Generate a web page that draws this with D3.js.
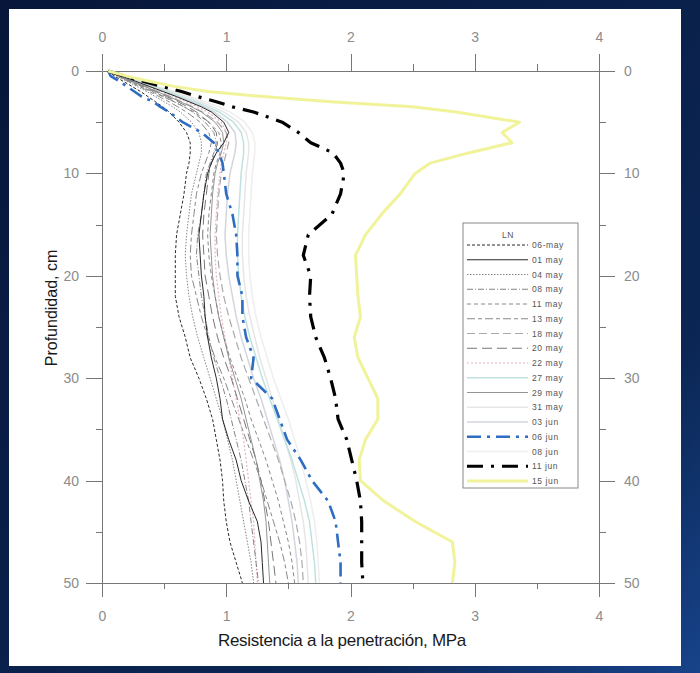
<!DOCTYPE html>
<html>
<head>
<meta charset="utf-8">
<script src="https://cdnjs.cloudflare.com/ajax/libs/d3/7.8.5/d3.min.js"></script>
<style>
  html, body { margin: 0; padding: 0; background: #0b2552; }
  #chart { width: 700px; height: 673px; }
  .tick text { fill: #8c8c8c; font-family: "Liberation Sans Narrow", "Liberation Sans", Arial, sans-serif; font-size: 14px; }
  .tick line, .domain { stroke: #777; stroke-width: 1; }
  .axis-text { font-family: "Liberation Sans", Arial, sans-serif; fill: #1a1a1a; }
  .legend-text { font-family: "Liberation Sans", Arial, sans-serif; font-size: 8.5px; fill: #555; letter-spacing: 0.6px; }
</style>
</head>
<body>
<div id="chart"></div>
<script>
// Depth of each reading (cm), shared by all series
var depths = [0, 0.5, 1, 1.5, 2, 2.5, 3, 3.5, 4, 5, 6, 7, 8, 9, 10, 12, 14, 16, 18, 20,
  22, 24, 26, 28, 30, 32, 34, 36, 38, 40, 42, 44, 46, 48, 50];

// Penetration resistance (MPa) per date
var may06a = [0.05, 0.10, 0.17, 0.24, 0.31, 0.37, 0.43, 0.49, 0.54, 0.62, 0.68, 0.71, 0.71, 0.70, 0.68, 0.66, 0.63, 0.60, 0.59, 0.59,
  0.59, 0.62, 0.67, 0.71, 0.78, 0.84, 0.89, 0.92, 0.95, 0.97, 0.98, 1.00, 1.03, 1.08, 1.13];
var may01 = [0.05, 0.16, 0.27, 0.38, 0.49, 0.60, 0.70, 0.80, 0.88, 0.98, 1.02, 0.98, 0.92, 0.88, 0.85, 0.82, 0.80, 0.78, 0.79, 0.80,
  0.82, 0.83, 0.85, 0.88, 0.92, 0.95, 0.97, 1.02, 1.08, 1.12, 1.18, 1.25, 1.28, 1.29, 1.30];
var may04 = [0.05, 0.12, 0.20, 0.28, 0.36, 0.43, 0.50, 0.57, 0.63, 0.72, 0.78, 0.80, 0.80, 0.78, 0.76, 0.72, 0.70, 0.68, 0.67, 0.68,
  0.70, 0.73, 0.77, 0.82, 0.87, 0.92, 0.97, 1.01, 1.05, 1.08, 1.11, 1.14, 1.17, 1.20, 1.22];
var may08 = [0.05, 0.14, 0.23, 0.32, 0.41, 0.50, 0.58, 0.66, 0.73, 0.83, 0.90, 0.92, 0.90, 0.87, 0.84, 0.82, 0.80, 0.77, 0.76, 0.78,
  0.80, 0.83, 0.86, 0.90, 0.95, 1.00, 1.04, 1.08, 1.12, 1.15, 1.18, 1.20, 1.22, 1.24, 1.26];
var may11 = [0.05, 0.13, 0.22, 0.31, 0.40, 0.49, 0.58, 0.66, 0.74, 0.86, 0.94, 0.96, 0.95, 0.92, 0.90, 0.88, 0.86, 0.85, 0.86, 0.88,
  0.91, 0.94, 0.98, 1.03, 1.09, 1.15, 1.20, 1.26, 1.32, 1.37, 1.42, 1.46, 1.50, 1.53, 1.55];
var may13 = [0.05, 0.12, 0.21, 0.30, 0.38, 0.46, 0.54, 0.61, 0.68, 0.79, 0.86, 0.88, 0.86, 0.83, 0.80, 0.76, 0.74, 0.72, 0.71, 0.72,
  0.76, 0.80, 0.85, 0.91, 0.98, 1.04, 1.10, 1.16, 1.22, 1.28, 1.33, 1.38, 1.43, 1.47, 1.50];
var may18 = [0.05, 0.15, 0.25, 0.35, 0.45, 0.55, 0.64, 0.73, 0.81, 0.93, 1.00, 1.02, 1.00, 0.98, 0.96, 0.94, 0.93, 0.92, 0.93, 0.95,
  0.98, 1.02, 1.07, 1.12, 1.18, 1.24, 1.30, 1.36, 1.42, 1.47, 1.52, 1.56, 1.59, 1.61, 1.62];
var may20 = [0.05, 0.14, 0.24, 0.34, 0.43, 0.52, 0.61, 0.69, 0.76, 0.86, 0.92, 0.93, 0.91, 0.88, 0.86, 0.84, 0.82, 0.81, 0.82, 0.83,
  0.86, 0.89, 0.93, 0.98, 1.04, 1.09, 1.14, 1.19, 1.24, 1.28, 1.31, 1.34, 1.36, 1.38, 1.40];
var may22 = [0.05, 0.15, 0.26, 0.37, 0.48, 0.58, 0.68, 0.77, 0.85, 0.96, 1.00, 1.00, 0.98, 0.96, 0.95, 0.93, 0.92, 0.91, 0.91, 0.92,
  0.94, 0.96, 0.99, 1.02, 1.05, 1.08, 1.11, 1.14, 1.16, 1.18, 1.20, 1.22, 1.23, 1.24, 1.25];
var may27 = [0.05, 0.17, 0.29, 0.41, 0.53, 0.64, 0.75, 0.85, 0.94, 1.06, 1.12, 1.14, 1.14, 1.13, 1.12, 1.11, 1.10, 1.09, 1.09, 1.10,
  1.12, 1.15, 1.19, 1.24, 1.29, 1.35, 1.41, 1.47, 1.53, 1.58, 1.63, 1.67, 1.69, 1.71, 1.72];
var may29 = [0.05, 0.14, 0.24, 0.34, 0.44, 0.54, 0.63, 0.72, 0.80, 0.91, 0.97, 0.98, 0.96, 0.93, 0.91, 0.89, 0.88, 0.87, 0.88, 0.89,
  0.91, 0.94, 0.98, 1.02, 1.07, 1.12, 1.16, 1.20, 1.24, 1.27, 1.30, 1.32, 1.33, 1.34, 1.35];
var may31 = [0.05, 0.17, 0.30, 0.43, 0.56, 0.68, 0.79, 0.89, 0.98, 1.10, 1.16, 1.18, 1.18, 1.17, 1.16, 1.15, 1.14, 1.13, 1.13, 1.14,
  1.16, 1.19, 1.23, 1.27, 1.32, 1.37, 1.42, 1.47, 1.52, 1.56, 1.59, 1.62, 1.64, 1.65, 1.66];
var jun03 = [0.05, 0.16, 0.28, 0.40, 0.51, 0.62, 0.72, 0.82, 0.90, 1.01, 1.07, 1.08, 1.07, 1.05, 1.03, 1.01, 1.00, 0.99, 1.00, 1.02,
  1.05, 1.08, 1.12, 1.17, 1.22, 1.28, 1.33, 1.38, 1.43, 1.47, 1.50, 1.53, 1.55, 1.57, 1.58];
var jun06 = [0.05, 0.07, 0.14, 0.20, 0.26, 0.32, 0.41, 0.47, 0.54, 0.65, 0.80, 0.90, 0.94, 0.97, 0.98, 1.00, 1.05, 1.08, 1.09, 1.09,
  1.13, 1.13, 1.16, 1.22, 1.20, 1.37, 1.43, 1.49, 1.60, 1.69, 1.82, 1.88, 1.90, 1.92, 1.92];
var jun08 = [0.05, 0.18, 0.31, 0.45, 0.58, 0.71, 0.83, 0.94, 1.03, 1.15, 1.21, 1.23, 1.23, 1.22, 1.21, 1.20, 1.19, 1.18, 1.18, 1.19,
  1.21, 1.24, 1.28, 1.33, 1.38, 1.44, 1.50, 1.55, 1.60, 1.64, 1.68, 1.71, 1.73, 1.74, 1.75];
var jun11 = [0.05, 0.18, 0.33, 0.48, 0.64, 0.77, 0.92, 1.05, 1.22, 1.45, 1.58, 1.68, 1.86, 1.92, 1.95, 1.92, 1.85, 1.66, 1.62, 1.68,
  1.67, 1.68, 1.72, 1.79, 1.84, 1.88, 1.90, 1.97, 2.01, 2.05, 2.08, 2.09, 2.09, 2.09, 2.10];
var jun15 = [0.05, 0.20, 0.38, 0.58, 0.85, 1.30, 1.84, 2.50, 2.85, 3.36, 3.22, 3.30, 2.95, 2.64, 2.52, 2.40, 2.25, 2.12, 2.04, 2.05,
  2.06, 2.08, 2.03, 2.06, 2.14, 2.22, 2.22, 2.12, 2.07, 2.08, 2.27, 2.52, 2.82, 2.84, 2.82];

var seriesNames = ["06-may", "01 may", "04 may", "08 may", "11 may", "13 may", "18 may", "20 may",
  "22 may", "27 may", "29 may", "31 may", "03 jun", "06 jun", "08 jun", "11 jun", "15 jun"];
var seriesValues = [may06a, may01, may04, may08, may11, may13, may18, may20,
  may22, may27, may29, may31, jun03, jun06, jun08, jun11, jun15];

var xTicks = [0, 1, 2, 3, 4];
var xMinor = [0.5, 1.5, 2.5, 3.5];
var yTicks = [0, 10, 20, 30, 40, 50];
var yMinor = [5, 15, 25, 35, 45];

// line look for each series, same order as the names
var styles = [
  {color: "#111", width: 0.9, dash: "3,2"},
  {color: "#111", width: 0.9, dash: null},
  {color: "#777", width: 0.9, dash: "1.5,1.5"},
  {color: "#777", width: 0.9, dash: "6,2,1,2"},
  {color: "#888", width: 1, dash: "4,3"},
  {color: "#888", width: 1, dash: "8,3,4,3"},
  {color: "#aaa", width: 1.2, dash: "8,4"},
  {color: "#777", width: 1, dash: "10,5"},
  {color: "#e8b4bc", width: 1.2, dash: "2,2"},
  {color: "#bfe2e0", width: 1.5, dash: null},
  {color: "#888", width: 0.9, dash: null},
  {color: "#e6e6e6", width: 1.5, dash: null},
  {color: "#d2d6de", width: 1.5, dash: null},
  {color: "#2f6dc2", width: 2.6, dash: "14,6,3,6"},
  {color: "#eeeeee", width: 1.5, dash: null},
  {color: "#000", width: 3.2, dash: "16,8,3,8"},
  {color: "#f1f39a", width: 3, dash: null}
];
// order in which the lines are painted (pale ones underneath)
var drawOrder = [14, 11, 12, 9, 8, 6, 2, 3, 4, 5, 7, 10, 0, 1, 13, 15, 16];

var svgWidth = 700;
var svgHeight = 673;
var margin = {top: 71, left: 102};
var plotW = 497;
var plotH = 512;

var svg = d3.select("#chart").append("svg")
  .attr("width", svgWidth)
  .attr("height", svgHeight);

// dark blue frame with white page
var defs = svg.append("defs");
var grad = defs.append("linearGradient").attr("id", "frame")
  .attr("x1", "0").attr("y1", "0").attr("x2", "1").attr("y2", "1");
grad.append("stop").attr("offset", "0%").attr("stop-color", "#07163a");
grad.append("stop").attr("offset", "75%").attr("stop-color", "#0b2654");
grad.append("stop").attr("offset", "100%").attr("stop-color", "#17438a");
svg.append("rect").attr("width", svgWidth).attr("height", svgHeight).attr("fill", "url(#frame)");
svg.append("rect").attr("x", 9).attr("y", 9).attr("width", 672).attr("height", 657).attr("fill", "#fff");

var x = d3.scaleLinear().domain([0, 4]).range([margin.left, margin.left + plotW]);
var y = d3.scaleLinear().domain([0, 50]).range([margin.top, margin.top + plotH]);

// Axes, all four sides
svg.append("g").attr("transform", "translate(0," + y(0) + ")")
  .call(d3.axisTop(x).tickValues(xTicks).tickSize(17).tickSizeOuter(0).tickPadding(12).tickFormat(d3.format("d")));
svg.append("g").attr("transform", "translate(0," + y(0) + ")")
  .call(d3.axisTop(x).tickValues(xMinor).tickSize(7).tickFormat(""))
  .select(".domain").remove();

svg.append("g").attr("transform", "translate(0," + y(50) + ")")
  .call(d3.axisBottom(x).tickValues(xTicks).tickSize(14).tickSizeOuter(0).tickPadding(14).tickFormat(d3.format("d")));
svg.append("g").attr("transform", "translate(0," + y(50) + ")")
  .call(d3.axisBottom(x).tickValues(xMinor).tickSize(6).tickFormat(""))
  .select(".domain").remove();

svg.append("g").attr("transform", "translate(" + x(0) + ",0)")
  .call(d3.axisLeft(y).tickValues(yTicks).tickSize(16).tickSizeOuter(0).tickPadding(7));
svg.append("g").attr("transform", "translate(" + x(0) + ",0)")
  .call(d3.axisLeft(y).tickValues(yMinor).tickSize(6).tickFormat(""))
  .select(".domain").remove();

svg.append("g").attr("transform", "translate(" + x(4) + ",0)")
  .call(d3.axisRight(y).tickValues(yTicks).tickSize(16).tickSizeOuter(0).tickPadding(9));
svg.append("g").attr("transform", "translate(" + x(4) + ",0)")
  .call(d3.axisRight(y).tickValues(yMinor).tickSize(7).tickFormat(""))
  .select(".domain").remove();

svg.selectAll(".tick line").attr("shape-rendering", "crispEdges");

// Profiles
var line = d3.line()
  .x(function(d) { return x(d[1]); })
  .y(function(d) { return y(d[0]); });

var linesGroup = svg.append("g");
drawOrder.forEach(function(i) {
  var pts = depths.map(function(d, k) { return [d, seriesValues[i][k]]; });
  linesGroup.append("path")
    .datum(pts)
    .attr("fill", "none")
    .attr("stroke", styles[i].color)
    .attr("stroke-width", styles[i].width)
    .attr("stroke-dasharray", styles[i].dash)
    .attr("stroke-linejoin", "round")
    .attr("d", line);
});

// Legend
var lg = svg.append("g");
lg.append("rect")
  .attr("x", 463).attr("y", 223).attr("width", 115).attr("height", 265)
  .attr("fill", "#fff").attr("stroke", "#888").attr("stroke-width", 1);
lg.append("text").attr("class", "legend-text")
  .attr("x", 508).attr("y", 238).attr("text-anchor", "middle").text("LN");

var rows = lg.selectAll(".row")
  .data(seriesNames)
  .enter()
  .append("g")
  .attr("transform", function(d, i) { return "translate(0," + (245 + i * 14.75) + ")"; });
rows.append("line")
  .attr("x1", 467).attr("x2", 528).attr("y1", 0).attr("y2", 0)
  .attr("stroke", function(d, i) { return styles[i].color; })
  .attr("stroke-width", function(d, i) { return styles[i].width; })
  .attr("stroke-dasharray", function(d, i) { return styles[i].dash; });
rows.append("text").attr("class", "legend-text")
  .attr("x", 532).attr("y", 3)
  .text(function(d) { return d; });

// Axis titles
svg.append("text")
  .attr("class", "axis-text")
  .attr("transform", "translate(57," + 308 + ") rotate(-90)")
  .attr("text-anchor", "middle")
  .style("font-size", "16px")
  .text("Profundidad, cm");

svg.append("text")
  .attr("class", "axis-text")
  .attr("x", 342).attr("y", 646)
  .attr("text-anchor", "middle")
  .style("font-size", "17px")
  .style("letter-spacing", "-0.3px")
  .text("Resistencia a la penetración, MPa");
</script>
</body>
</html>
